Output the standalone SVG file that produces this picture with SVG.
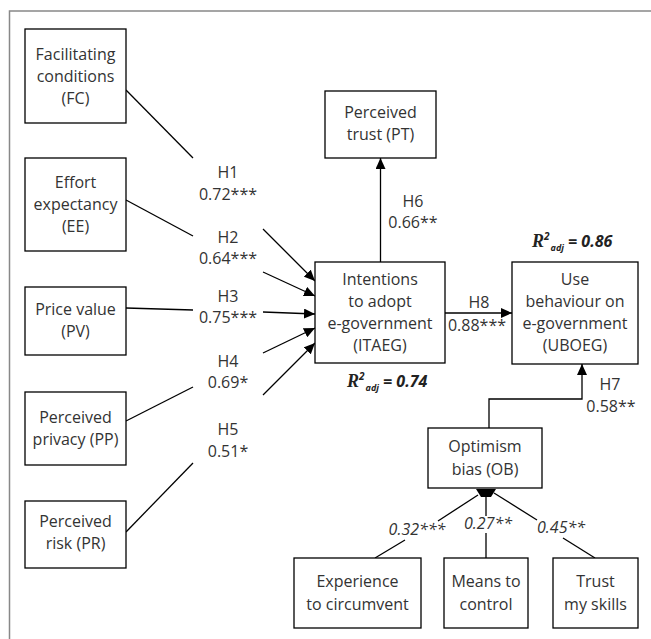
<svg xmlns="http://www.w3.org/2000/svg" width="651" height="639" viewBox="0 0 651 639">
<style>
.box{fill:#fff;stroke:#000;stroke-width:1.3}
.t{font-family:"Open Sans",Lato,sans-serif;font-size:16px;fill:#333;text-anchor:middle}
.l{font-family:"Open Sans",Lato,sans-serif;font-size:16px;fill:#333;text-anchor:middle}
.li{font-family:"Open Sans",Lato,sans-serif;font-size:16px;fill:#333;text-anchor:middle;font-style:italic}
.c{stroke:#000;stroke-width:1.3;fill:none}
.a{stroke:#000;stroke-width:1.3;fill:none;marker-end:url(#ah)}
.r{font-family:"Open Sans",Lato,sans-serif;font-weight:bold;font-style:italic;fill:#222}
</style>
<defs>
<marker id="ah" markerUnits="userSpaceOnUse" markerWidth="12" markerHeight="10" refX="11" refY="5" orient="auto">
<path d="M0,0 L11,5 L0,10 Z" fill="#000"/>
</marker>
</defs>
<rect x="9.5" y="11" width="660" height="660" fill="#fff" stroke="#888" stroke-width="1.5"/>

<g id="connectors">
<line class="c" x1="126" y1="90" x2="193" y2="158"/>
<line class="a" x1="263" y1="229" x2="315" y2="281"/>
<line class="c" x1="126" y1="200" x2="193" y2="236"/>
<line class="a" x1="263" y1="272" x2="315" y2="296"/>
<line class="c" x1="126" y1="308" x2="193" y2="310"/>
<line class="a" x1="263" y1="312" x2="315" y2="314"/>
<line class="c" x1="126" y1="421" x2="193" y2="387"/>
<line class="a" x1="263" y1="353" x2="315" y2="328"/>
<line class="c" x1="126" y1="532" x2="193" y2="463"/>
<line class="a" x1="263" y1="395" x2="315" y2="343"/>
<line class="a" x1="380.5" y1="262" x2="380.5" y2="158"/>
<line class="a" x1="445" y1="313" x2="512" y2="313"/>
<polyline class="a" points="489,428 489,399 582,399 582,364"/>
<line class="c" x1="478" y1="495" x2="438" y2="521"/>
<line class="c" x1="405" y1="540" x2="375" y2="558"/>
<line class="c" x1="486" y1="496" x2="486" y2="516"/>
<line class="c" x1="486" y1="533" x2="486" y2="558"/>
<line class="c" x1="494" y1="493" x2="537" y2="520"/>
<line class="c" x1="563" y1="538" x2="595" y2="558"/>
<polygon points="476,489 496,489 491,497 481,497" fill="#000"/>
</g>

<g id="labels">
<text class="l" x="228" y="178">H1</text><text class="l" x="228" y="200">0.72***</text>
<text class="l" x="228" y="243">H2</text><text class="l" x="228" y="264">0.64***</text>
<text class="l" x="228" y="302">H3</text><text class="l" x="228" y="323">0.75***</text>
<text class="l" x="228" y="367">H4</text><text class="l" x="228" y="388">0.69*</text>
<text class="l" x="228" y="435">H5</text><text class="l" x="228" y="457">0.51*</text>
<text class="l" x="413" y="207">H6</text><text class="l" x="413" y="228">0.66**</text>
<text class="l" x="479" y="308">H8</text><text class="l" x="477" y="331">0.88***</text>
<text class="l" x="610" y="390">H7</text><text class="l" x="611" y="412">0.58**</text>
<text class="li" x="417" y="535">0.32***</text>
<text class="li" x="488" y="529">0.27**</text>
<text class="li" x="561" y="533">0.45**</text>
<text class="r" x="532" y="247"><tspan font-family="Liberation Serif" font-size="18">R</tspan><tspan font-size="10" dy="-7">2</tspan><tspan font-size="9" dy="11" dx="1">adj</tspan><tspan font-size="16" dy="-4"> = 0.86</tspan></text>
<text class="r" x="347" y="387"><tspan font-family="Liberation Serif" font-size="18">R</tspan><tspan font-size="10" dy="-7">2</tspan><tspan font-size="9" dy="11" dx="1">adj</tspan><tspan font-size="16" dy="-4"> = 0.74</tspan></text>
</g>

<g id="FC"><rect class="box" x="25" y="29" width="101" height="94"/>
<text class="t" x="75.5" y="60">Facilitating</text><text class="t" x="75.5" y="82">conditions</text><text class="t" x="75.5" y="104">(FC)</text></g>
<g id="EE"><rect class="box" x="25" y="158" width="101" height="93"/>
<text class="t" x="75.5" y="188">Effort</text><text class="t" x="75.5" y="210">expectancy</text><text class="t" x="75.5" y="232">(EE)</text></g>
<g id="PV"><rect class="box" x="25" y="287" width="101" height="68"/>
<text class="t" x="75.5" y="315">Price value</text><text class="t" x="75.5" y="337">(PV)</text></g>
<g id="PP"><rect class="box" x="25" y="392" width="101" height="73"/>
<text class="t" x="75.5" y="423">Perceived</text><text class="t" x="75.5" y="445">privacy (PP)</text></g>
<g id="PR"><rect class="box" x="25" y="501" width="101" height="67"/>
<text class="t" x="75.5" y="527">Perceived</text><text class="t" x="75.5" y="549">risk (PR)</text></g>
<g id="PT"><rect class="box" x="325" y="91" width="111" height="67"/>
<text class="t" x="380.5" y="118">Perceived</text><text class="t" x="380.5" y="140">trust (PT)</text></g>
<g id="ITAEG"><rect class="box" x="315" y="262" width="130" height="101"/>
<text class="t" x="380" y="285">Intentions</text><text class="t" x="380" y="307">to adopt</text><text class="t" x="380" y="329">e-government</text><text class="t" x="380" y="351">(ITAEG)</text></g>
<g id="UBOEG"><rect class="box" x="512" y="262" width="126" height="102"/>
<text class="t" x="575" y="285">Use</text><text class="t" x="575" y="307">behaviour on</text><text class="t" x="575" y="329">e-government</text><text class="t" x="575" y="351">(UBOEG)</text></g>
<g id="OB"><rect class="box" x="428" y="428" width="114" height="60"/>
<text class="t" x="485" y="452">Optimism</text><text class="t" x="485" y="475">bias (OB)</text></g>
<g id="EXP"><rect class="box" x="294" y="558" width="127" height="70"/>
<text class="t" x="357.5" y="587">Experience</text><text class="t" x="357.5" y="610">to circumvent</text></g>
<g id="MEANS"><rect class="box" x="444" y="558" width="84" height="70"/>
<text class="t" x="486" y="587">Means to</text><text class="t" x="486" y="610">control</text></g>
<g id="TRUST"><rect class="box" x="553" y="558" width="85" height="70"/>
<text class="t" x="595.5" y="587">Trust</text><text class="t" x="595.5" y="610">my skills</text></g>
</svg>
